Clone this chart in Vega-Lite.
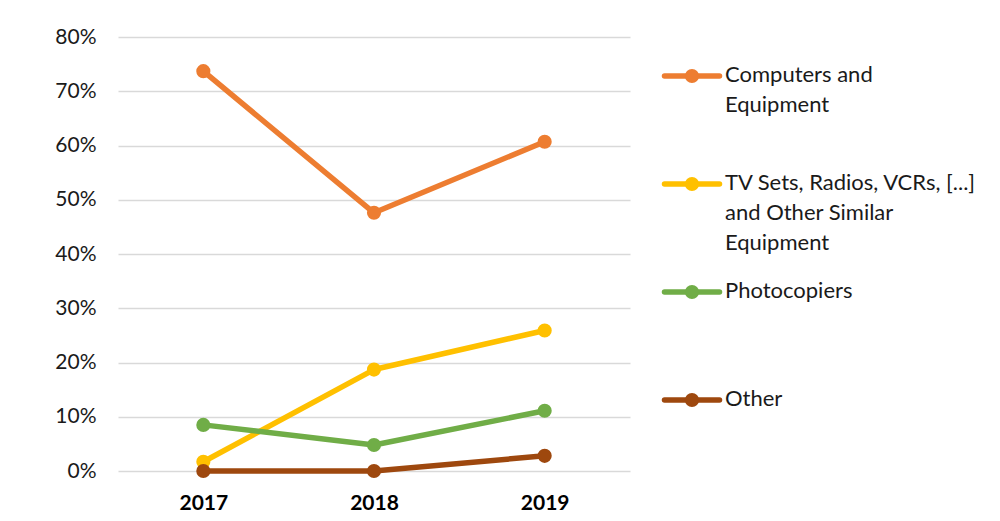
{
  "$schema": "https://vega.github.io/schema/vega-lite/v6.json",
  "background": "white",
  "padding": {"left": 54, "top": 26, "right": 0, "bottom": 0},
  "spacing": 23,
  "config": {
    "font": "Lato",
    "view": {"stroke": null}
  },
  "datasets": {
    "shares": [
      {"series": "Computers and Equipment", "year": "2017", "share": 0.737},
      {"series": "Computers and Equipment", "year": "2018", "share": 0.476},
      {"series": "Computers and Equipment", "year": "2019", "share": 0.607},
      {"series": "TV Sets, Radios, VCRs, [...] and Other Similar Equipment", "year": "2017", "share": 0.017},
      {"series": "TV Sets, Radios, VCRs, [...] and Other Similar Equipment", "year": "2018", "share": 0.187},
      {"series": "TV Sets, Radios, VCRs, [...] and Other Similar Equipment", "year": "2019", "share": 0.259},
      {"series": "Photocopiers", "year": "2017", "share": 0.085},
      {"series": "Photocopiers", "year": "2018", "share": 0.048},
      {"series": "Photocopiers", "year": "2019", "share": 0.111},
      {"series": "Other", "year": "2017", "share": 0.0},
      {"series": "Other", "year": "2018", "share": 0.0},
      {"series": "Other", "year": "2019", "share": 0.028}
    ],
    "legend": [
      {"series": "Computers and Equipment", "label": "Computers and\nEquipment"},
      {"series": "TV Sets, Radios, VCRs, [...] and Other Similar Equipment", "label": "TV Sets, Radios, VCRs, [...]\nand Other Similar\nEquipment"},
      {"series": "Photocopiers", "label": "Photocopiers"},
      {"series": "Other", "label": "Other"}
    ]
  },
  "hconcat": [
    {
      "width": 512,
      "height": 434,
      "data": {"name": "shares"},
      "encoding": {
        "x": {
          "field": "year", "type": "ordinal",
          "scale": {"type": "point", "padding": 0.5},
          "axis": {"title": null, "labelAngle": 0, "labelFontSize": 21, "labelFontWeight": "bold", "labelColor": "#000000", "ticks": false, "domain": false, "labelPadding": 21, "grid": false}
        },
        "y": {
          "field": "share", "type": "quantitative",
          "scale": {"domain": [0, 0.8], "nice": false},
          "axis": {"title": null, "format": ".0%", "values": [0, 0.1, 0.2, 0.3, 0.4, 0.5, 0.6, 0.7, 0.8], "labelFontSize": 21, "labelColor": "#1a1a1a", "ticks": false, "domain": false, "labelPadding": 22, "gridColor": "#d9d9d9", "gridWidth": 1.5}
        },
        "color": {
          "field": "series", "type": "nominal", "legend": null,
          "scale": {
            "domain": ["Computers and Equipment", "TV Sets, Radios, VCRs, [...] and Other Similar Equipment", "Photocopiers", "Other"],
            "range": ["#ED7D31", "#FFC000", "#70AD47", "#9E480E"]
          }
        }
      },
      "layer": [
        {"mark": {"type": "line", "strokeWidth": 5.5, "strokeCap": "round", "strokeJoin": "round"}},
        {"mark": {"type": "point", "filled": true, "opacity": 1, "size": 200}}
      ]
    },
    {
      "width": 60,
      "height": 402,
      "data": {"name": "legend"},
      "encoding": {
        "y": {
          "field": "series", "type": "nominal",
          "scale": {"type": "point", "padding": 0.361, "domain": ["Computers and Equipment", "TV Sets, Radios, VCRs, [...] and Other Similar Equipment", "Photocopiers", "Other"]},
          "axis": null
        }
      },
      "layer": [
        {
          "mark": {"type": "point", "shape": "stroke", "size": 3025, "strokeWidth": 5.5, "strokeCap": "round", "opacity": 1, "filled": false},
          "encoding": {
            "color": {"field": "series", "type": "nominal", "legend": null,
              "scale": {"domain": ["Computers and Equipment", "TV Sets, Radios, VCRs, [...] and Other Similar Equipment", "Photocopiers", "Other"], "range": ["#ED7D31", "#FFC000", "#70AD47", "#9E480E"]}}
          }
        },
        {
          "mark": {"type": "point", "shape": "circle", "size": 200, "filled": true, "opacity": 1},
          "encoding": {
            "color": {"field": "series", "type": "nominal", "legend": null,
              "scale": {"domain": ["Computers and Equipment", "TV Sets, Radios, VCRs, [...] and Other Similar Equipment", "Photocopiers", "Other"], "range": ["#ED7D31", "#FFC000", "#70AD47", "#9E480E"]}}
          }
        },
        {
          "mark": {"type": "text", "align": "left", "baseline": "line-top", "lineHeight": 30, "lineBreak": "\n", "dx": 33, "dy": -15, "fontSize": 22, "color": "#1a1a1a"},
          "encoding": {"text": {"field": "label"}}
        }
      ]
    }
  ]
}
